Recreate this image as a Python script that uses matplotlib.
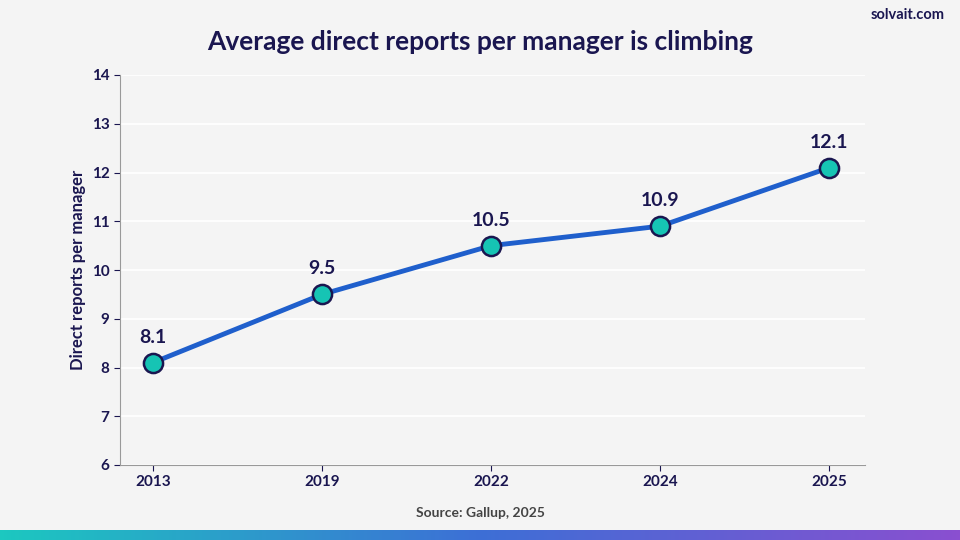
import matplotlib.pyplot as plt
import numpy as np

plt.rcParams['font.family'] = ['Lato', 'DejaVu Sans']

years = ['2013', '2019', '2022', '2024', '2025']
reports = [8.1, 9.5, 10.5, 10.9, 12.1]
y_ticks = [6, 7, 8, 9, 10, 11, 12, 13, 14]

navy = '#1a1650'
bg = '#f4f4f4'

fig = plt.figure(figsize=(9.6, 5.4), dpi=100, facecolor=bg)
ax = fig.add_axes([120 / 960, 1 - 465 / 540, 745 / 960, 390 / 540], facecolor=bg)

x = np.arange(len(years))
ax.plot(x, reports, color='#1f5fcc', linewidth=3.5, zorder=2)
ax.scatter(x, reports, s=190, color='#16c4b4', edgecolor=navy, linewidth=1.8, zorder=3)
for xi, v in zip(x, reports):
    ax.text(xi, v + 0.35, f'{v}', ha='center', va='bottom', fontsize=14,
            fontweight='bold', color=navy)

ax.set_xlim(-0.195, 4.21)
ax.set_ylim(6, 14)
ax.set_xticks(x, years)
ax.set_yticks(y_ticks)
ax.grid(axis='y', color='white', linewidth=1.2)
ax.set_axisbelow(True)
for side in ['top', 'right']:
    ax.spines[side].set_visible(False)
for side in ['left', 'bottom']:
    ax.spines[side].set_color('#999999')
ax.tick_params(colors=navy, labelsize=11, length=4)
for lab in ax.get_xticklabels() + ax.get_yticklabels():
    lab.set_fontweight('bold')
ax.set_ylabel('Direct reports per manager', fontsize=12, fontweight='bold', color=navy)

fig.text(0.5, 1 - 42 / 540, 'Average direct reports per manager is climbing',
         ha='center', va='center', fontsize=19, fontweight='bold', color=navy)
fig.text(945 / 960, 1 - 15 / 540, 'solvait.com', ha='right', va='center',
         fontsize=10.5, fontweight='bold', color=navy)
fig.text(0.5, 1 - 513 / 540, 'Source: Gallup, 2025', ha='center', va='center',
         fontsize=10, fontweight='bold', color='#444444')

# gradient bar at bottom
gax = fig.add_axes([0, 0, 1, 10 / 540])
gax.imshow(np.linspace(0, 1, 256).reshape(1, -1), aspect='auto',
           cmap=plt.matplotlib.colors.LinearSegmentedColormap.from_list(
               'g', ['#1cc8c0', '#3d6fd6', '#8a4fd0']))
gax.axis('off')

fig.savefig('out.png', dpi=100, facecolor=bg)
